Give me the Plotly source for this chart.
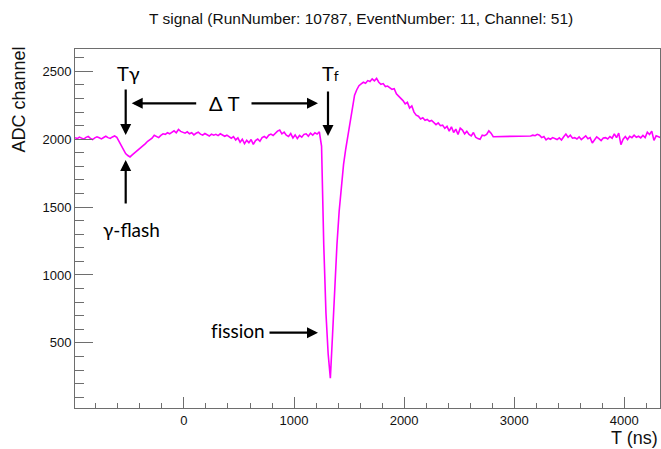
import numpy as np
import plotly.graph_objects as go

# ---------------- data ----------------
# segment 1: T from -990 ns to 2810 ns, 20 ns sampling
t_seg1 = np.arange(-990, 2811, 20)
adc_seg1 = [
    2012, 2005, 2016, 2008, 2001, 2014, 2020, 2006, 1998, 2010,   # -990
    2018, 2011, 2003, 2013, 2022, 2012, 2006, 2017, 2024, 2014,   # -790
    1985, 1945, 1918, 1895, 1880, 1870, 1885, 1898, 1912, 1925,   # -590
    1940, 1955, 1968, 1985, 1996, 2008, 2030, 2018, 2012, 2028,   # -390
    2040, 2036, 2048, 2040, 2052, 2062, 2048, 2072, 2058, 2050,   # -190
    2045, 2055, 2040, 2048, 2032, 2044, 2052, 2038, 2030, 2042,   # 10
    2035, 2024, 2038, 2030, 2036, 2027, 2040, 2032, 2022, 2030,   # 210
    2018, 2008, 2020, 1995, 2010, 1978, 2000, 1968, 1992, 1975,   # 410
    1998, 1962, 1990, 2002, 1985, 2012, 2020, 2008, 2030, 2038,   # 610
    2028, 2045, 2060, 2068, 2040, 2052, 2030, 2020, 2042, 2010,   # 810
    2032, 2005, 2028, 2015, 2036, 2040, 2022, 2045, 2030, 2048,   # 1010
    2038, 2055, 1950, 1225, 720, 420, 240, 560, 920, 1225,        # 1210
    1470, 1660, 1815, 1930, 2030, 2140, 2240, 2325, 2365, 2395,   # 1410
    2408, 2420, 2412, 2432, 2425, 2445, 2430, 2448, 2420, 2405,   # 1610
    2410, 2388, 2392, 2378, 2368, 2372, 2335, 2318, 2302, 2285,   # 1810
    2260, 2272, 2230, 2245, 2200, 2178, 2170, 2150, 2158, 2140,   # 2010
    2146, 2132, 2138, 2125, 2108, 2120, 2100, 2104, 2080, 2095,   # 2210
    2060, 2092, 2050, 2075, 2035, 2082, 2068, 2040, 2058, 2035,   # 2410
    2025, 2050, 2015, 2005, 2000, 2030, 2026, 2035, 2062, 2045,   # 2610
    2019,                                                         # 2810
]
# segment 2: T from 3150 ns to 4330 ns, 20 ns sampling
t_seg2 = np.arange(3150, 4331, 20)
adc_seg2 = [
    2024, 2030, 2026, 2036, 2030, 2012, 2020, 1995, 2008, 2000,   # 3150
    2012, 2002, 1998, 2010, 1994, 2018, 2038, 2015, 2030, 2008,   # 3350
    2012, 2002, 2018, 1998, 2010, 2025, 2004, 2012, 1972, 1995,   # 3550
    2018, 2005, 1990, 2010, 2012, 2002, 2020, 2008, 2040, 2012,   # 3750
    2045, 1960, 2000, 2020, 1998, 2022, 2012, 2030, 2015, 2022,   # 3950
    2010, 2028, 2012, 2052, 2035, 2060, 1992, 2025, 2018, 2012,   # 4150
]
assert len(t_seg1) == len(adc_seg1), (len(t_seg1), len(adc_seg1))
assert len(t_seg2) == len(adc_seg2), (len(t_seg2), len(adc_seg2))

t_ns = np.concatenate([t_seg1, t_seg2])
adc = np.concatenate([adc_seg1, adc_seg2])

title_text = "T signal (RunNumber: 10787, EventNumber: 11, Channel: 51)"
x_title = "T (ns)"
y_title = "ADC channel"

# ---------------- layout geometry ----------------
W, H = 661, 449
L, R, T, B = 75, 1, 49, 41
X_RANGE = [-990, 4325]
Y_RANGE = [20, 2665]
PW = W - L - R
PH = H - T - B


def px2x(px):
    return X_RANGE[0] + (px - L) / PW * (X_RANGE[1] - X_RANGE[0])


def py2y(py):
    return Y_RANGE[1] - (py - T) / PH * (Y_RANGE[1] - Y_RANGE[0])


fig = go.Figure()
fig.add_trace(go.Scatter(
    x=t_ns, y=adc, mode="lines",
    line=dict(color="#ff00ff", width=1.6),
    showlegend=False, hoverinfo="skip",
))

axis_col = "#6e6e6e"
tick_font = dict(family="Liberation Sans, Arial, sans-serif", size=13, color="#111")

fig.update_layout(
    width=W, height=H,
    margin=dict(l=L, r=R, t=T, b=B),
    paper_bgcolor="white", plot_bgcolor="white",
    showlegend=False,
    xaxis=dict(
        range=X_RANGE, showgrid=False, zeroline=False,
        showline=True, linecolor=axis_col, linewidth=1, mirror=True,
        ticks="inside", ticklen=11, tickwidth=1, tickcolor=axis_col,
        tick0=0, dtick=1000, tickfont=tick_font,
        minor=dict(ticks="inside", ticklen=5.5, tickwidth=1, tickcolor=axis_col,
                   tick0=0, dtick=200, showgrid=False),
    ),
    yaxis=dict(
        range=Y_RANGE, showgrid=False, zeroline=False,
        showline=True, linecolor=axis_col, linewidth=1, mirror=True,
        ticks="inside", ticklen=17.5, tickwidth=1, tickcolor=axis_col,
        tick0=0, dtick=500, tickfont=tick_font,
        minor=dict(ticks="inside", ticklen=9, tickwidth=1, tickcolor=axis_col,
                   tick0=0, dtick=100, showgrid=False),
    ),
)

txt_font = "Liberation Sans, Arial, sans-serif"
ann_font = "Lato, Open Sans, sans-serif"

annotations = [
    # plot title
    dict(text=title_text, xref="paper", yref="paper",
         x=(361 - L) / PW, y=1 + (T - 19) / PH, xanchor="center", yanchor="middle",
         showarrow=False, font=dict(family=txt_font, size=15.5, color="#111")),
    # axis titles
    dict(text=x_title, xref="paper", yref="paper",
         x=1.0, y=-(438 - (T + PH)) / PH, xanchor="right", yanchor="middle",
         showarrow=False, font=dict(family=txt_font, size=18, color="#111")),
    dict(text=y_title, xref="paper", yref="paper", textangle=-90,
         x=-(L - 18.5) / PW, y=1 - (100 - T) / PH, xanchor="center", yanchor="middle",
         showarrow=False, font=dict(family=txt_font, size=18, color="#111")),
    # labels
    dict(text="Tγ", x=px2x(128), y=py2y(73), showarrow=False,
         font=dict(family=ann_font, size=20, color="black")),
    dict(text="Δ T", x=px2x(224), y=py2y(103), showarrow=False,
         font=dict(family=ann_font, size=20, color="black")),
    dict(text="T<span style='font-size:14px'>f</span>", x=px2x(330), y=py2y(73),
         showarrow=False, font=dict(family=ann_font, size=20, color="black")),
    dict(text="γ-flash", x=px2x(131), y=py2y(229), showarrow=False,
         font=dict(family=ann_font, size=19, color="black")),
    dict(text="f\u200cission", x=px2x(238), y=py2y(330), showarrow=False,
         font=dict(family=ann_font, size=19, color="black")),
]

arrow_style = dict(showarrow=True, arrowhead=2, arrowsize=1, arrowwidth=2.2,
                   arrowcolor="black", text="", standoff=0, startstandoff=0)
arrows = [
    # (tip_px_x, tip_px_y, tail_dx, tail_dy)
    (125.7, 135, 0, -47),     # T-gamma down
    (125.7, 160, 0, 45),      # gamma-flash up
    (131.7, 103.3, 66, 0),    # Delta T left
    (318, 103.3, -68, 0),     # Delta T right
    (328, 136, 0, -46),       # T_f down
    (318, 332.7, -50, 0),     # fission
]
for tx, ty, dx, dy in arrows:
    annotations.append(dict(x=px2x(tx), y=py2y(ty), ax=dx, ay=dy,
                            axref="pixel", ayref="pixel", **arrow_style))

fig.update_layout(annotations=annotations)
fig.write_html("out.html")
